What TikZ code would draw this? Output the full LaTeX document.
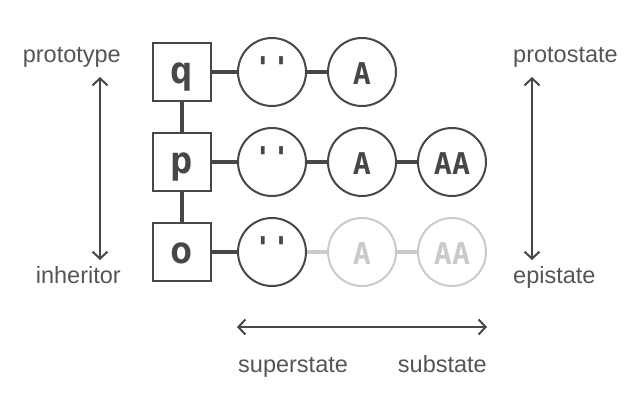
\documentclass[tikz,border=0pt]{standalone}
\usepackage{fontspec}
\usetikzlibrary{arrows.meta}
\newfontfamily\codefont[Ligatures=TeXOff]{DejaVu Sans Mono}
\newfontfamily\labelfont{Liberation Sans}
\definecolor{ink}{HTML}{474747}
\definecolor{faint}{HTML}{CACACA}
\definecolor{words}{HTML}{555555}

\begin{document}
\begin{tikzpicture}[x=1pt, y=-1pt,
  objbox/.style={draw=ink, line width=2pt, minimum size=58pt, inner sep=0pt, text=ink, font=\codefont\bfseries\fontsize{37}{37}\selectfont, text height=22pt, text depth=0pt},
  slot/.style={circle, draw=ink, line width=2pt, minimum size=68pt, inner sep=0pt, text=ink, font=\codefont\bfseries\fontsize{30}{30}\selectfont, text height=24pt, text depth=0pt},
  faded/.style={draw=faint, text=faint},
  link/.style={draw=ink, line width=4pt},
  dim/.style={{Straight Barb[length=7pt,width=15pt]}-{Straight Barb[length=7pt,width=15pt]}, draw=ink, line width=2pt},
  lbl/.style={text=words, font=\labelfont\fontsize{23.5}{23.5}\selectfont, inner sep=0pt}
]
\useasboundingbox (0,0) rectangle (640,400);

% objects
\node[objbox] (q) at (182,72) {q};
\node[objbox] (p) at (182,162) {p};
\node[objbox] (o) at (182,252) {o};
\draw[link] (q) -- (p);
\draw[link] (p) -- (o);

% states
\node[slot] (q0) at (272,72) {\raisebox{6pt}{''}};
\node[slot] (q1) at (362,72) {A};
\node[slot] (p0) at (272,162) {\raisebox{6pt}{''}};
\node[slot] (p1) at (362,162) {A};
\node[slot] (p2) at (452,162) {AA};
\node[slot] (o0) at (272,252) {\raisebox{6pt}{''}};
\node[slot, faded] (o1) at (362,252) {A};
\node[slot, faded] (o2) at (452,252) {AA};
\draw[link] (q) -- (q0);
\draw[link] (q0) -- (q1);
\draw[link] (p) -- (p0);
\draw[link] (p0) -- (p1);
\draw[link] (p1) -- (p2);
\draw[link] (o) -- (o0);
\draw[link, faded] (o0) -- (o1);
\draw[link, faded] (o1) -- (o2);

% axes
\node[lbl, anchor=base east] (prototype) at (121,62) {prototype};
\node[lbl, anchor=base east] (inheritor) at (121,283) {inheritor};
\node[lbl, anchor=base west] (protostate) at (513,62) {protostate};
\node[lbl, anchor=base west] (epistate) at (513,283) {epistate};
\node[lbl, anchor=base west] (superstate) at (238,372) {superstate};
\node[lbl, anchor=base east] (substate) at (487,372) {substate};
\coordinate (inh top) at (100,77);
\coordinate (inh bot) at (100,260);
\coordinate (epi top) at (532,77);
\coordinate (epi bot) at (532,260);
\coordinate (sub left) at (237,327);
\coordinate (sub right) at (487,327);
\draw[dim] (inh top) -- (inh bot);
\draw[dim] (epi top) -- (epi bot);
\draw[dim] (sub left) -- (sub right);
\end{tikzpicture}
\end{document}
